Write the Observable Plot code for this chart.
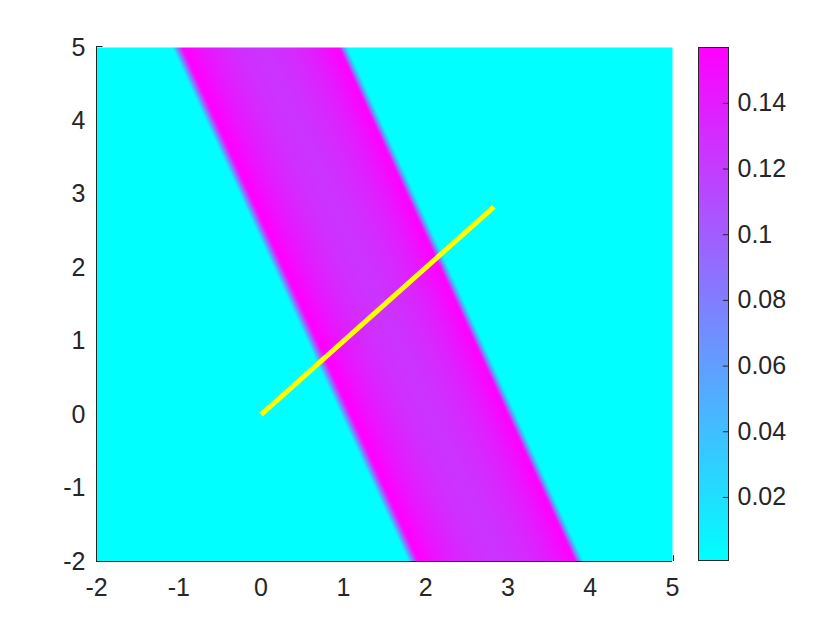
<!DOCTYPE html>
<html>
<head>
<meta charset="utf-8">
<script src="https://cdn.jsdelivr.net/npm/d3@7"></script>
<script src="https://cdn.jsdelivr.net/npm/@observablehq/plot@0.6"></script>
<style>
  html, body { margin: 0; padding: 0; background: #fff; }
  #chart { position: relative; width: 840px; height: 630px; }
  #chart svg { position: absolute; left: 0; top: 0; }
</style>
</head>
<body>
<div id="chart"></div>
<script>
// Axis ticks
const xTicks = [-2, -1, 0, 1, 2, 3, 4, 5];
const yTicks = [-2, -1, 0, 1, 2, 3, 4, 5];
const colorTicks = [0.02, 0.04, 0.06, 0.08, 0.1, 0.12, 0.14];

// Colour range (from colorbar)
const colorMin = 0.0008;
const colorMax = 0.157;

// Band: value as a function of offset u = x + bandSlope * y
const bandSlope = 0.41;
const bandOffsets = [0.97, 1.03, 1.09, 1.13, 1.2, 1.3, 1.4, 1.5, 1.6, 1.7, 1.8, 1.9, 2.0, 2.1, 2.2, 2.3, 2.4, 2.5, 2.6, 2.7, 2.8, 2.9, 2.97, 3.0, 3.04, 3.10];
const bandValues  = [0.0008, 0.08, 0.153, 0.157, 0.153, 0.147, 0.142, 0.138, 0.134, 0.131, 0.128, 0.127, 0.126, 0.126, 0.127, 0.129, 0.131, 0.134, 0.137, 0.141, 0.146, 0.152, 0.156, 0.152, 0.08, 0.0008];
const backgroundValue = 0.0008;

// Yellow line
const lineX = [0, 2.83];
const lineY = [0, 2.83];

const lineData = lineX.map((x, i) => ({x, y: lineY[i]}));

function bandValue(x, y) {
  const u = x + bandSlope * y;
  if (u <= bandOffsets[0] || u >= bandOffsets[bandOffsets.length - 1]) return backgroundValue;
  const i = d3.bisectRight(bandOffsets, u) - 1;
  const t = (u - bandOffsets[i]) / (bandOffsets[i + 1] - bandOffsets[i]);
  return bandValues[i] + t * (bandValues[i + 1] - bandValues[i]);
}

const ink = "#262626";
const font = "'Liberation Sans', Arial, Helvetica, sans-serif";
const colorScale = {type: "linear", domain: [colorMin, colorMax], range: ["#00ffff", "#ff00ff"], interpolate: "rgb", clamp: true};

const main = Plot.plot({
  width: 840,
  height: 630,
  marginLeft: 96,
  marginRight: 168,
  marginTop: 47,
  marginBottom: 69,
  style: {fontSize: "25px", fontFamily: font, color: ink, background: "transparent"},
  x: {domain: [-2, 5], label: null},
  y: {domain: [-2, 5], label: null},
  color: colorScale,
  marks: [
    Plot.raster({fill: bandValue, x1: -2, x2: 5, y1: -2, y2: 5, pixelSize: 1}),
    Plot.line(lineData, {x: "x", y: "y", stroke: "#ffff00", strokeWidth: 5, strokeLinecap: "butt"}),
    Plot.ruleX([-2], {stroke: ink, strokeWidth: 1}),
    Plot.ruleY([-2], {stroke: ink, strokeWidth: 1}),
    Plot.ruleY([5], {x1: -2, x2: -1.92, stroke: ink, dy: -1}),
    Plot.ruleX([5], {y1: -2, y2: -1.92, stroke: ink, dx: 1}),
    Plot.axisX({ticks: xTicks, tickSize: 0, tickPadding: 17, tickFormat: d => String(d), fill: ink, label: null}),
    Plot.axisY({ticks: yTicks, tickSize: 0, tickPadding: 11, tickFormat: d => String(d), fill: ink, label: null})
  ]
});

const bar = Plot.plot({
  width: 840,
  height: 630,
  marginLeft: 698,
  marginRight: 112,
  marginTop: 47,
  marginBottom: 70,
  style: {fontSize: "25px", fontFamily: font, color: ink, background: "transparent"},
  x: {domain: [0, 1], axis: null},
  y: {domain: [colorMin, colorMax], axis: null},
  color: colorScale,
  marks: [
    Plot.raster({fill: (x, y) => y, x1: 0, x2: 1, y1: colorMin, y2: colorMax, pixelSize: 1}),
    Plot.ruleY(colorTicks, {x1: 0.83, x2: 1, stroke: ink}),
    Plot.frame({stroke: ink, strokeWidth: 1}),
    Plot.axisY({anchor: "right", ticks: colorTicks, tickSize: 0, tickPadding: 9, tickFormat: d => String(d), fill: ink, label: null})
  ]
});

const chart = document.getElementById("chart");
chart.appendChild(main);
chart.appendChild(bar);
</script>
</body>
</html>
